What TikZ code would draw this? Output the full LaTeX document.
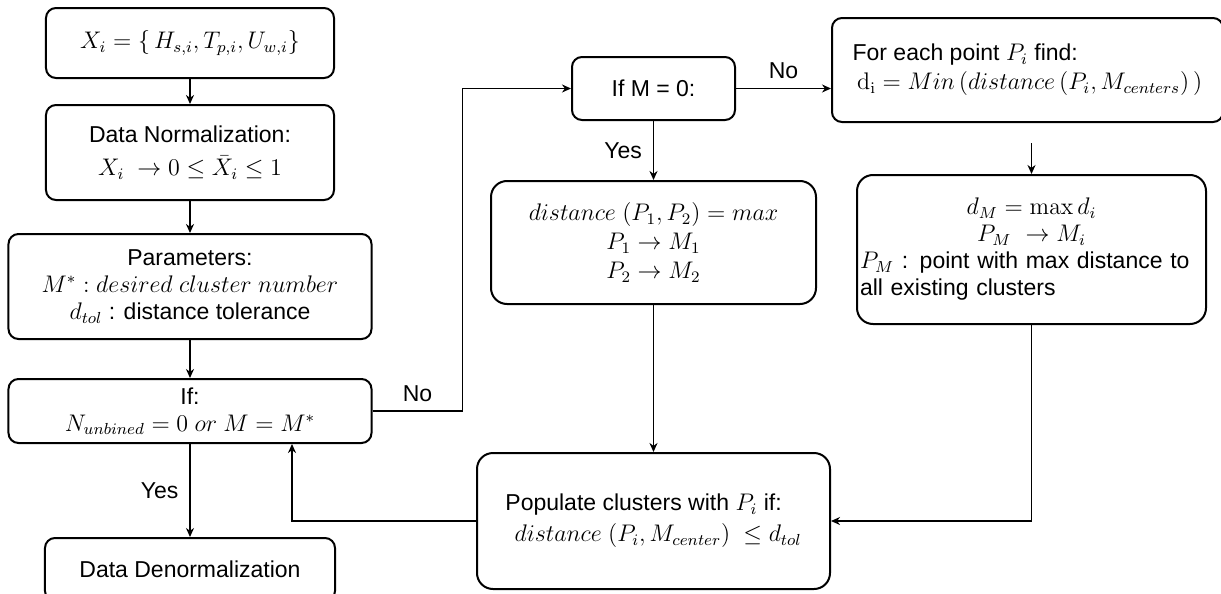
\documentclass[tikz,border=0pt]{standalone}
\usepackage[no-math]{fontspec}
\setmainfont{Liberation Sans}
\usepackage{amsmath}
\usepackage{tikz}
\usetikzlibrary{positioning, arrows.meta}

\begin{document}
\begin{tikzpicture}[
    font=\fontsize{11.5}{13.5}\selectfont,
    >={Stealth[length=4.5pt, width=4pt]},
    flow_box/.style={draw, line width=1pt, rounded corners=5pt, align=center, inner sep=1.5pt},
    big_box/.style={flow_box, rounded corners=8pt},
    arrow/.style={->, line width=0.9pt}
]
\useasboundingbox (-95pt,21.5pt) rectangle (515.5pt,-275.5pt);

% Left column
\node[flow_box, minimum width=144pt, minimum height=35pt] (input) {$X_i = \{\, H_{s,i}, T_{p,i}, U_{w,i}\}$};
\node[flow_box, minimum width=144pt, minimum height=47.5pt, below=12.5pt of input] (norm) {Data Normalization:\\[3pt] $X_i\ \to 0 \le \bar{X}_i \le 1$};
\node[flow_box, minimum width=181.5pt, minimum height=52.5pt, below=16pt of norm] (params) {Parameters:\\ $M^* : desired\ cluster\ number$\\ $d_{tol}$ : distance tolerance};
\node[flow_box, minimum width=181.5pt, minimum height=32pt, below=19pt of params] (stop) {If:\\ $N_{unbined} = 0\ or\ M = M^*$};
\node[flow_box, minimum width=145pt, minimum height=31.5pt, below=46.5pt of stop] (denorm) {Data Denormalization};

% Middle column
\node[flow_box, minimum width=81.5pt, minimum height=31.5pt, right=118pt of input, yshift=-22.75pt] (first) {If M = 0:};
\node[big_box, minimum width=162.5pt, minimum height=61.5pt, below=29.5pt of first] (pair) {$distance\ (P_1,P_2) = max$\\[1pt] $P_1 \to M_1$\\[1pt] $P_2 \to M_2$};
\node[big_box, minimum width=176.5pt, minimum height=68pt, below=73.5pt of pair, align=left] (populate) {Populate clusters with $P_i$ if:\\[2pt] \hspace{0.4em}$distance\ (P_i, M_{center})\ \le d_{tol}$};

% Right column
\node[flow_box, minimum width=195.5pt, minimum height=52pt, right=47.5pt of first, yshift=9.25pt, align=left] (nearest) {For each point $P_i$ find:\\[1pt] \hspace{0.2em}$\mathrm{d_i} = Min\,(distance\,(P_i, M_{centers})\,)$};
\node[big_box, minimum width=174.5pt, minimum height=74.5pt, below=25.5pt of nearest, xshift=2pt, text width=171.5pt, align=left] (farthest) {\centering $d_M = \max d_i$\\ $P_M\ \to M_i$\par\raggedright $P_M$ : point with max distance to\\ all existing clusters};

% Main flow
\draw[arrow] (input) -- (norm);
\draw[arrow] (norm) -- (params);
\draw[arrow] (params) -- (stop);
\draw[arrow] (stop) -- (denorm) node[midway, left=2pt] {Yes};
\draw[arrow] (stop.east) -- ++(45pt,0) node[midway, above=1pt] {No} |- (first.west);

% Cluster seeding
\draw[arrow] (first.east) -- (first.east -| nearest.west) node[midway, above=1pt] {No};
\draw[arrow] (first) -- (pair) node[midway, left=2pt] {Yes};
\draw[arrow] (pair) -- (populate);
\draw[arrow, shorten <=10pt] (farthest.north |- nearest.south) -- (farthest.north);
\draw[arrow] (farthest.south) |- (populate.east);
\draw[arrow] (populate.west) -| ([xshift=51pt]stop.south);

\end{tikzpicture}
\end{document}
